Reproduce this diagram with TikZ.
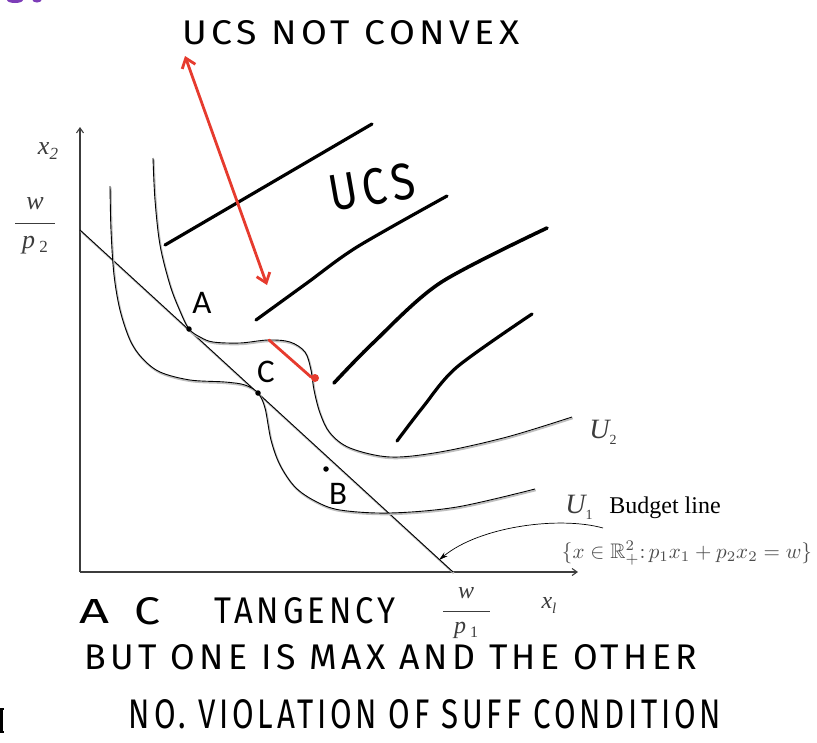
\documentclass[tikz,border=0pt]{standalone}
\usepackage{fontspec}
\usepackage{amssymb}
\usepackage{graphicx}
\usetikzlibrary{arrows.meta}
\newfontfamily\serif{Liberation Serif}
\newfontfamily\hand[LetterSpace=12]{Fira Sans}
\newfontfamily\lbl{Carlito}
\definecolor{redpen}{HTML}{E63B2E}
\definecolor{purp}{HTML}{7D3DB8}
\definecolor{labgray}{HTML}{3C3C3C}
\begin{document}
\begin{tikzpicture}[x=1pt,y=-1pt,
  curve/.style={line width=0.9pt, black, line join=round,
    preaction={draw=black!25, line width=1.8pt, transform canvas={shift={(0.8pt,-1.3pt)}}}},
  axis/.style={line width=1.1pt, labgray, -{Straight Barb[length=5pt,width=7pt]}},
  hatch/.style={line width=3.2pt, line cap=round, black},
  redline/.style={redpen, line width=2.8pt, line cap=round},
  ptdot/.style={circle, fill=black, inner sep=0pt, minimum size=5.5pt},
  reddot/.style={circle, fill=redpen, inner sep=0pt, minimum size=8pt},
  hw/.style={inner sep=0pt, anchor=center, black},
  ptlabel/.style={inner sep=0pt, font=\lbl\fontsize{33}{35}\selectfont},
  ser/.style={inner sep=0pt, labgray}
]
\useasboundingbox (0,0) rectangle (817,742);

% purple fragment at top-left
\fill[purp] (15,0) ellipse (8 and 3);
\fill[purp] (37,0) ellipse (4.5 and 2.5);

% axes
\coordinate (O) at (80,572);
\coordinate (Ytop) at (80,127);
\coordinate (Xend) at (578,572);
\draw[axis] (O) -- (Ytop);
\draw[axis] (O) -- (Xend);

% axis labels
\node[ser] (x2lab) at (48,151) {\serif\fontsize{26}{28}\selectfont\itshape x\raisebox{-5pt}{\fontsize{17}{17}\selectfont 2}};
\node[ser] (wtop) at (35,204) {\serif\fontsize{26}{28}\selectfont\itshape w};
\draw[labgray, line width=1pt] (15,223) -- (55,223);
\node[ser] (p2lab) at (35,245) {\serif\fontsize{26}{28}\selectfont\itshape p\,\upshape\raisebox{-4pt}{\fontsize{17}{17}\selectfont 2}};
\node[ser] (wbot) at (466,593) {\serif\fontsize{24}{28}\selectfont\itshape w};
\draw[labgray, line width=1pt] (443,611) -- (490,611);
\node[ser] (p1lab) at (466,630) {\serif\fontsize{24}{28}\selectfont\itshape p\,\upshape\raisebox{-4pt}{\fontsize{16}{16}\selectfont 1}};
\node[ser] (x1lab) at (549,605) {\serif\fontsize{24}{28}\selectfont\itshape x\raisebox{-5pt}{\fontsize{15}{15}\selectfont l}};

% budget line
\coordinate (B0) at (80,230);
\coordinate (B1) at (453,572);
\draw[curve] (B0) -- (B1);

% indifference curves
\draw[curve] plot[smooth, tension=0.55] coordinates {(153,158) (155,200) (160,245) (170,285) (180,311) (189,329) (200,337) (213,342) (240,343) (268,340) (290,342) (305,352) (311,370) (314,390) (320,413) (330,433) (350,448) (390,457) (440,452) (507,437) (572,417)};
\draw[curve] plot[smooth, tension=0.55] coordinates {(110,186) (111,230) (114,275) (120,310) (130,340) (142,358) (160,372) (190,380) (225,382) (245,385) (258,393) (265,408) (271,440) (280,465) (295,487) (315,501) (340,510) (390,513) (457,507) (535,489)};

% points
\node[ptdot] (A) at (189,329) {};
\node[ptdot] (C) at (258,393) {};
\node[ptdot] (B) at (326,469) {};
\node[ptlabel] (Alab) at (202,303) {A};
\node[ptlabel] (Clab) at (266,372) {C};
\node[ptlabel] (Blab) at (338,494) {B};

% curve labels
\node[ser] (U2lab) at (603,432) {\serif\fontsize{28}{30}\selectfont\itshape U\upshape\raisebox{-6pt}{\fontsize{14}{14}\selectfont 2}};
\node[ser] (U1lab) at (579,507) {\serif\fontsize{28}{30}\selectfont\itshape U\upshape\raisebox{-6pt}{\fontsize{14}{14}\selectfont 1}};
\node[inner sep=0pt, black] (budget) at (665,508) {\serif\fontsize{24}{28}\selectfont Budget line};
\node[inner sep=0pt, black!70] (setdef) at (687,553) {\resizebox{250pt}{!}{$\{x\in\mathbb{R}^2_+{:}\,p_1x_1+p_2x_2=w\}$}};

% pointer to budget line
\coordinate (bp0) at (603,528);
\coordinate (bp1) at (439,560);
\draw[line width=0.7pt, -{Stealth[length=9pt,width=5pt]}] (bp0) .. controls (560,516) and (480,526) .. (bp1);

% hatching of the upper contour set
\draw[hatch] (165,245) -- (372,124);
\draw[hatch] plot[smooth] coordinates {(256,320) (307,283) (357,247) (447,196)};
\draw[hatch, line width=3.6pt] plot[smooth] coordinates {(334,383) (373,343) (440,283) (547,228)};
\draw[hatch] plot[smooth] coordinates {(397,441) (423,407) (457,367) (532,314)};

% red marks
\coordinate (r1) at (269,340);
\coordinate (r2a) at (311,377);
\draw[redline] (r1) -- (r2a);
\node[reddot] (r2) at (315,378) {};
\coordinate (ra) at (185,56);
\coordinate (rb) at (267,285);
\draw[redline, {Straight Barb[length=9pt,width=14pt]}-{Straight Barb[length=9pt,width=14pt]}] (ra) -- (rb);

% handwritten notes
\node[hw] (note1) at (351,33) {\resizebox{337pt}{24pt}{\hand UCS NOT CONVEX}};
\node[hw, rotate=10] (ucs) at (372,187) {\resizebox{86pt}{36pt}{\hand UCS}};
\node[hw] (noteA) at (95,611) {\resizebox{30pt}{24pt}{\hand A}};
\node[hw] (noteC) at (148,611) {\resizebox{26pt}{27pt}{\hand C}};
\node[hw] (noteT) at (305,611) {\resizebox{180pt}{26pt}{\hand TANGENCY}};
\node[hw] (note2) at (391,657) {\resizebox{612pt}{25pt}{\hand BUT ONE IS MAX AND THE OTHER}};
\node[hw] (note3) at (425,714) {\resizebox{592pt}{29pt}{\hand NO. VIOLATION OF SUFF CONDITION}};
\draw[line width=2.6pt] (0,709) -- (4,709) (1.5,710) -- (1.5,731) (0,732) -- (4,732);
\end{tikzpicture}
\end{document}
